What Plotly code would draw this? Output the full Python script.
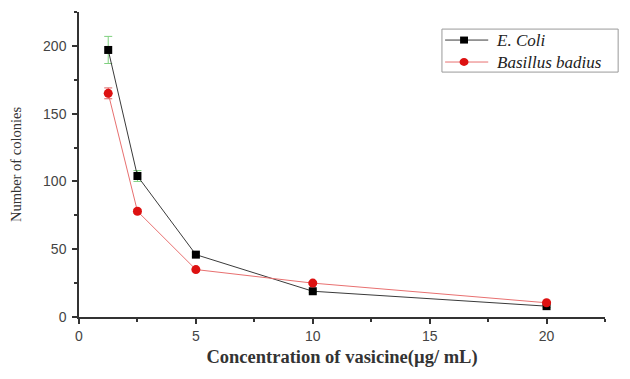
import plotly.graph_objects as go

conc = [1.25, 2.5, 5, 10, 20]
ecoli = [197, 104, 46, 19, 8]
ecoli_err = [10, 4, 1.5, 1, 1]
basillus = [165, 78, 35, 25, 10.5]
basillus_err = [4, 1.5, 1, 1, 1]
series_names = ["E. Coli", "Basillus badius"]

fig = go.Figure()
fig.add_trace(go.Scatter(
    x=conc, y=ecoli, name=series_names[0], mode="lines+markers",
    line=dict(color="#3a3a3a", width=1),
    marker=dict(symbol="square", size=8, color="black"),
    error_y=dict(type="data", array=ecoli_err, color="#7fd07f", thickness=1, width=4),
))
fig.add_trace(go.Scatter(
    x=conc, y=basillus, name=series_names[1], mode="lines+markers",
    line=dict(color="#e87070", width=1),
    marker=dict(symbol="circle", size=9, color="#dd1111"),
    error_y=dict(type="data", array=basillus_err, color="#e06060", thickness=1, width=4),
))

# custom legend (paper coordinates)
r1, r2 = 0.908, 0.836
shapes = [
    dict(type="rect", xref="paper", yref="paper", x0=0.690, x1=1.025, y0=0.803, y1=0.944,
         line=dict(color="#999999", width=1), fillcolor="white", layer="above"),
    dict(type="line", xref="paper", yref="paper", x0=0.696, x1=0.778, y0=r1, y1=r1,
         line=dict(color="#3a3a3a", width=1), layer="above"),
    dict(type="rect", xref="paper", yref="paper", x0=0.7245, x1=0.7395, y0=r1 - 0.0115, y1=r1 + 0.0115,
         line=dict(width=0), fillcolor="black", layer="above"),
    dict(type="line", xref="paper", yref="paper", x0=0.696, x1=0.778, y0=r2, y1=r2,
         line=dict(color="#e87070", width=1), layer="above"),
    dict(type="circle", xref="paper", yref="paper", x0=0.7235, x1=0.7405, y0=r2 - 0.013, y1=r2 + 0.013,
         line=dict(width=0), fillcolor="#dd1111", layer="above"),
]
annotations = [
    dict(text="<br>".join(series_names), xref="paper", yref="paper", x=0.789, y=(r1 + r2) / 2,
         xanchor="left", yanchor="middle", align="left", showarrow=False,
         font=dict(family="Liberation Serif", size=17, color="#222222", style="italic")),
]

fig.update_layout(
    width=630, height=379,
    margin=dict(l=79, r=25, t=12, b=62),
    paper_bgcolor="white", plot_bgcolor="white",
    showlegend=False,
    shapes=shapes, annotations=annotations,
    xaxis=dict(
        range=[0, 22.5], tickvals=[0, 5, 10, 15, 20],
        showline=True, linecolor="#333333", linewidth=1.5,
        ticks="outside", ticklen=5, tickcolor="#333333", tickwidth=1.5,
        minor=dict(tickvals=[2.5, 7.5, 12.5, 17.5, 22.5], ticks="outside", ticklen=3, tickcolor="#333333"),
        showgrid=False, zeroline=False,
        tickfont=dict(family="Liberation Sans", size=14, color="#444444"),
        title=dict(text="<b>Concentration of vasicine(µg/ mL)</b>",
                   font=dict(family="Liberation Serif", size=18.5, color="#333333"), standoff=8),
        automargin=False,
    ),
    yaxis=dict(
        range=[0, 225], tickvals=[0, 50, 100, 150, 200],
        showline=True, linecolor="#333333", linewidth=1.5,
        ticks="outside", ticklen=5, tickcolor="#333333", tickwidth=1.5,
        minor=dict(tickvals=[25, 75, 125, 175, 225], ticks="outside", ticklen=3, tickcolor="#333333"),
        showgrid=False, zeroline=False,
        tickfont=dict(family="Liberation Sans", size=14, color="#444444"),
        ticklabelstandoff=3,
        title=dict(text="Number of colonies",
                   font=dict(family="Liberation Serif", size=14.5, color="#333333"), standoff=18),
        automargin=False,
    ),
)

fig.write_html("out.html", config={"displayModeBar": False},
               post_script="document.body.style.margin='0';")
